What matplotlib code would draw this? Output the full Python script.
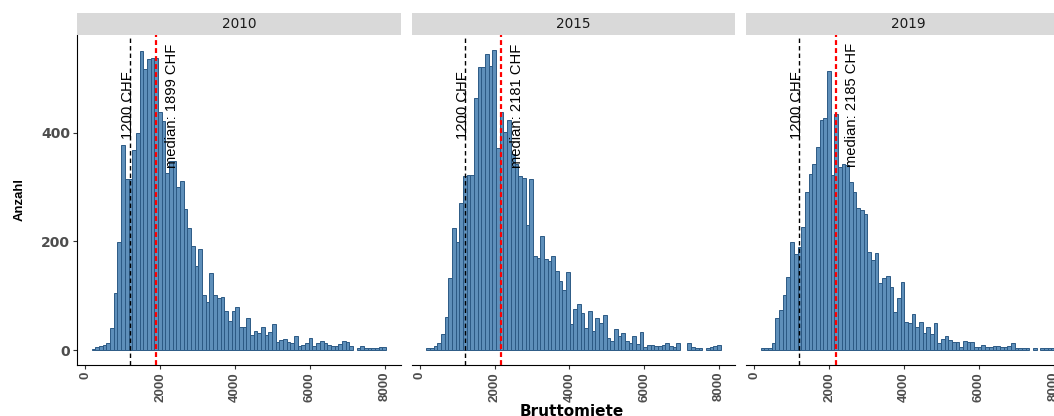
import numpy as np
import matplotlib
matplotlib.use("Agg")
import matplotlib.pyplot as plt
from matplotlib import font_manager as fm

# Daten
years = ["2010", "2015", "2019"]
medians = [1899, 2181, 2185]
threshold = 1200
bin_lo, bin_hi = 171, 8039   # Bereich der 80 Klassen

counts_2010 = [2, 5, 8, 10, 12, 40, 104, 199, 377, 315,
               315, 368, 400, 550, 517, 536, 537, 538, 438, 421,
               326, 348, 347, 300, 311, 260, 224, 191, 154, 185,
               101, 89, 142, 101, 95, 97, 72, 54, 72, 80,
               43, 42, 58, 27, 35, 31, 42, 28, 33, 48,
               14, 18, 21, 15, 12, 25, 8, 10, 13, 22,
               8, 12, 17, 12, 9, 7, 8, 11, 17, 14,
               7, 0, 4, 7, 4, 3, 4, 3, 5, 5]
counts_2015 = [3, 4, 8, 12, 29, 61, 132, 224, 199, 270,
               320, 322, 322, 463, 521, 521, 544, 522, 552, 371,
               438, 401, 423, 361, 343, 320, 317, 230, 315, 173,
               170, 210, 167, 164, 173, 146, 127, 111, 144, 47,
               75, 84, 69, 40, 72, 35, 59, 49, 64, 23,
               17, 39, 25, 32, 17, 13, 26, 11, 34, 6,
               9, 10, 7, 8, 9, 12, 7, 6, 12, 0,
               0, 12, 6, 3, 4, 0, 4, 6, 8, 10]
counts_2019 = [4, 4, 3, 12, 58, 74, 101, 135, 199, 176,
               190, 226, 291, 323, 343, 374, 423, 426, 513, 322,
               435, 337, 343, 340, 309, 291, 262, 257, 251, 181,
               165, 179, 124, 133, 136, 116, 70, 95, 126, 52,
               49, 67, 43, 52, 31, 43, 29, 49, 12, 20,
               25, 18, 14, 14, 5, 17, 15, 15, 6, 5,
               10, 6, 6, 7, 7, 6, 6, 7, 13, 4,
               4, 4, 3, 0, 3, 0, 3, 3, 3, 3]

x_ticks = [0, 2000, 4000, 6000, 8000]
y_ticks = [0, 200, 400]

# Schriften
names = {f.name for f in fm.fontManager.ttflist}
narrow = "Liberation Sans Narrow" if "Liberation Sans Narrow" in names else "Liberation Sans"
nscale = 1.0 if narrow == "Liberation Sans Narrow" else 0.82

W, H = 1054, 416
fig = plt.figure(figsize=(W / 100, H / 100), dpi=100)


def px_axes(left, top, width, height):
    return fig.add_axes([left / W, 1 - (top + height) / H, width / W, height / H])


all_counts = [np.array(counts_2010), np.array(counts_2015), np.array(counts_2019)]
edges = np.linspace(bin_lo, bin_hi, len(counts_2010) + 1)
centers = (edges[:-1] + edges[1:]) / 2
binw = edges[1] - edges[0]

xpad = 0.05 * (bin_hi - bin_lo)
ymax = max(c.max() for c in all_counts)
ypad = 0.05 * ymax

fill = "#5E8FBA"
edge = "#2C5A85"
panel_w = 323.8

for i, (year, counts, med) in enumerate(zip(years, all_counts, medians)):
    left = 77 + 334.5 * i
    ax = px_axes(left, 35, panel_w, 330)
    nz = counts > 0
    ax.bar(centers[nz], counts[nz], width=binw, color=fill, edgecolor=edge,
           linewidth=0.7, zorder=2)
    ax.axvline(threshold, color="black", lw=1.0, ls=(0, (3.2, 2.2)), zorder=3)
    ax.axvline(med, color="red", lw=1.6, ls=(0, (2.2, 1.4)), zorder=3)

    ax.annotate("1200 CHF", xy=(threshold, 450), xytext=(3.5, 0),
                textcoords="offset points", rotation=90, ha="right", va="center",
                fontsize=13 * nscale, family=narrow, color="black", zorder=4)
    ax.annotate(f"median: {med} CHF", xy=(med, 450), xytext=(6.5, 0),
                textcoords="offset points", rotation=90, ha="left", va="center",
                fontsize=13 * nscale, family=narrow, color="black", zorder=4)

    ax.set_xlim(bin_lo - xpad, bin_hi + xpad)
    ax.set_ylim(-ypad, ymax + ypad)
    ax.set_facecolor("white")
    for s in ["top", "right"]:
        ax.spines[s].set_visible(False)
    ax.spines["bottom"].set_linewidth(0.8)
    ax.spines["left"].set_linewidth(0.8)

    ax.set_xticks(x_ticks)
    ax.set_xticklabels([str(t) for t in x_ticks])
    ax.tick_params(axis="x", length=3, width=0.8, color="#333333", pad=2,
                   labelcolor="#4D4D4D", labelrotation=90)
    for lab in ax.get_xticklabels():
        lab.set_fontfamily(narrow)
        lab.set_fontweight("bold")
        lab.set_fontsize(11.8 * nscale)

    if i == 0:
        ax.set_yticks(y_ticks)
        ax.set_yticklabels([str(t) for t in y_ticks])
        ax.tick_params(axis="y", length=3, width=0.8, color="#333333", pad=2,
                       labelcolor="#4D4D4D", labelsize=10)
        for lab in ax.get_yticklabels():
            lab.set_fontweight("bold")
    else:
        ax.spines["left"].set_visible(False)
        ax.set_yticks([])

    # Facetten-Streifen
    strip = px_axes(left, 13, panel_w, 21.5)
    strip.set_facecolor("#D9D9D9")
    strip.set_xticks([])
    strip.set_yticks([])
    for s in strip.spines.values():
        s.set_visible(False)
    strip.text(0.5, 0.5, year, ha="center", va="center", fontsize=9.8,
               color="#1A1A1A", transform=strip.transAxes)

fig.text(20 / W, 1 - 200 / H, "Anzahl", rotation=90, ha="center", va="center",
         fontsize=11.5 * nscale, fontweight="bold", family=narrow)
fig.text(572 / W, 1 - 404 / H, "Bruttomiete", ha="center", va="top",
         fontsize=11, fontweight="bold")

fig.savefig("out.png", dpi=100)
